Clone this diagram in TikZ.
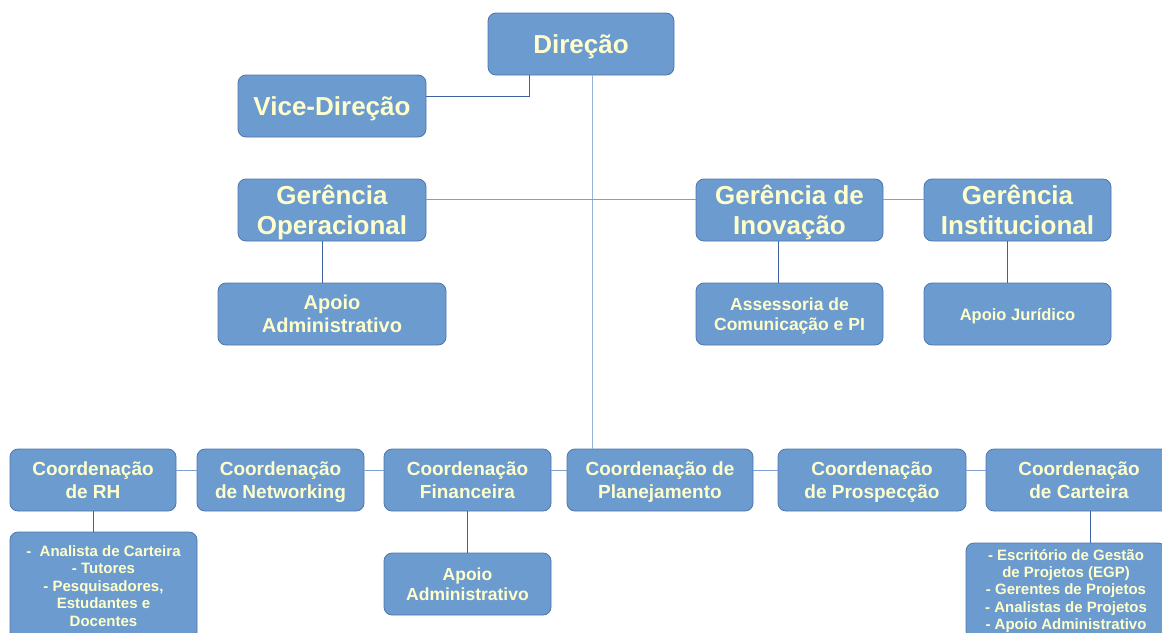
\documentclass[tikz,border=0pt]{standalone}
\usepackage{fontspec}
\setmainfont{Liberation Sans}
\usetikzlibrary{positioning}
\usepackage{xcolor}
\definecolor{boxfill}{RGB}{108,155,207}
\definecolor{boxdraw}{RGB}{78,118,172}
\definecolor{boxtext}{RGB}{255,255,204}
\definecolor{linkc}{RGB}{125,160,208}
\definecolor{linkdark}{RGB}{62,98,158}

\begin{document}
\begin{tikzpicture} [x=1pt, y=-1pt,
    box/.style={draw=boxdraw, fill=boxfill, text=boxtext,%
      rounded corners=8pt, line width=0.8pt,%
      outer sep=0, inner sep=0,%
      minimum height=62pt, text depth=0pt,%
      align=center},
    big/.style={box, font=\bfseries\fontsize{26}{30}\selectfont},
    coord/.style={box, font=\bfseries\fontsize{19}{23}\selectfont},
    small/.style={box, text depth=, font=\bfseries\fontsize{15}{17.4}\selectfont},
    link/.style={draw=linkc, line width=1pt}
    ]
    \useasboundingbox (0,0) rectangle (1162,632);
    \clip (0,0) rectangle (1162,632);
    % top levels
    \node[big, minimum width=186pt] (dir) at (581,44) {Direção};
    \node[big, minimum width=188pt] (vice) at (332,106) {Vice-Direção};
    \node[big, minimum width=188pt] (gop) at (332,210) {Gerência\\Operacional};
    \node[big, minimum width=187pt] (gin) at (789.5,210) {Gerência de\\Inovação};
    \node[big, minimum width=187pt] (gins) at (1017.5,210) {Gerência\\Institucional};
    \node[box, minimum width=228pt, font=\bfseries\fontsize{20}{23}\selectfont] (apop) at (332,314) {Apoio\\Administrativo};
    \node[box, minimum width=187pt, font=\bfseries\fontsize{17.5}{20.5}\selectfont] (asc) at (789.5,314) {Assessoria de\\Comunicação e PI};
    \node[box, minimum width=187pt, font=\bfseries\fontsize{16.5}{20}\selectfont] (jur) at (1017.5,314) {Apoio Jurídico};
    % coordenacoes
    \foreach \i/\x/\w/\name in {1/93/166/{Coordenação\\de RH},2/280.5/167/{Coordenação\\de Networking},3/467.5/167/{Coordenação\\Financeira},4/660/186/{Coordenação de\\Planejamento},5/872/188/{Coordenação\\de Prospecção},6/1079/186/{Coordenação\\de Carteira}}
        \node[coord, minimum width=\w pt] (c\i) at (\x,480) {\name};
    \foreach \i [remember=\i as \lasti (initially 1)] in {2,...,6}
        \draw[link] ([yshift=10pt]c\lasti.east) -- ([yshift=10pt]c\i.west);
    \node[small, minimum width=187pt, minimum height=108pt] (rhsub) at (103.5,586) {-~ Analista de Carteira\\- Tutores\\- Pesquisadores,\\Estudantes e\\Docentes};
    \node[box, minimum width=167pt, font=\bfseries\fontsize{17.5}{20}\selectfont] (finsub) at (467.5,584) {Apoio\\Administrativo};
    \node[small, minimum width=200pt, minimum height=96pt] (cartsub) at (1066,591) {- Escritório de Gestão\\de Projetos (EGP)\\- Gerentes de Projetos\\- Analistas de Projetos\\- Apoio Administrativo};
    % links
    \draw[draw=linkdark, line width=1pt] ([yshift=10pt]vice.east) -| ([xshift=-52pt]dir.south);
    \draw[link, draw=linkc!80] ([xshift=11pt]dir.south) -- ([xshift=11pt]dir.south |- c4.north);
    \draw[link] ([yshift=11pt]gop.east) -- ([yshift=11pt]gin.west);
    \draw[link] ([yshift=11pt]gin.east) -- ([yshift=11pt]gins.west);
    \draw[draw=linkdark, line width=0.8pt] ([xshift=-10pt]gop.south) -- ([xshift=-10pt]gop.south |- apop.north);
    \draw[draw=linkdark, line width=0.8pt] ([xshift=-11pt]gin.south) -- ([xshift=-11pt]gin.south |- asc.north);
    \draw[draw=linkdark, line width=0.8pt] ([xshift=-10pt]gins.south) -- ([xshift=-10pt]gins.south |- jur.north);
    \draw[draw=linkdark, line width=0.8pt] (c1.south) -- (rhsub.north -| c1.south);
    \draw[draw=linkdark, line width=0.8pt] (c3.south) -- (finsub.north);
    \draw[draw=linkdark, line width=0.8pt] ([xshift=11pt]c6.south) -- ([xshift=11pt]c6.south |- cartsub.north);
  \end{tikzpicture}
\end{document}
